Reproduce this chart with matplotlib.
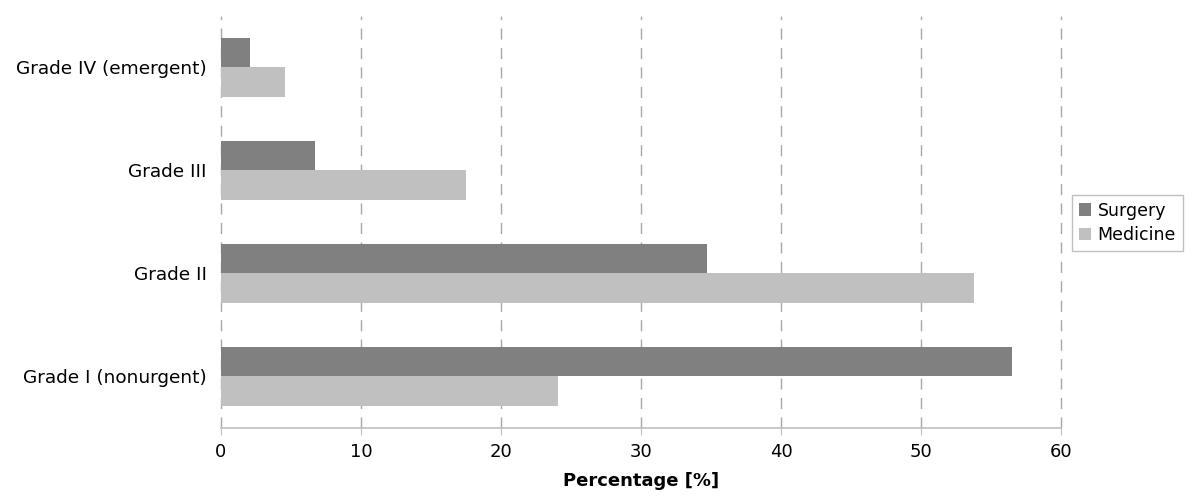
import matplotlib.pyplot as plt
import numpy as np

# Data
categories = ['Grade I (nonurgent)', 'Grade II', 'Grade III', 'Grade IV (emergent)']
surgery = [56.5, 34.7, 6.75, 2.1]
medicine = [24.1, 53.8, 17.5, 4.55]
x_ticks = [0, 10, 20, 30, 40, 50, 60]

plt.rcParams['font.family'] = ['DejaVu Sans']

fig = plt.figure(figsize=(12, 5.04), dpi=100)
ax = fig.add_axes([0.184, 0.151, 0.7004, 0.818])

y = np.arange(len(categories))
h = 0.285
ax.barh(y + h / 2, surgery, height=h, color='#808080', label='Surgery', zorder=3)
ax.barh(y - h / 2, medicine, height=h, color='#c0c0c0', label='Medicine', zorder=3)

ax.set_xlim(0, 60)
ax.set_ylim(-0.5, 3.5)
ax.set_xticks(x_ticks)
ax.set_yticks(y)
ax.set_yticklabels(categories, fontsize=13.3)
ax.tick_params(axis='x', labelsize=13, length=5, color='#c0c0c0', pad=6)
ax.tick_params(axis='y', length=0, pad=10)

# dashed vertical gridlines, including at zero and at 60
ax.grid(axis='x', linestyle=(0, (8, 6)), color='#a8a8a8', linewidth=1, zorder=0)
ax.grid(axis='y', visible=False)
for line in ax.get_xgridlines():
    line.set_clip_on(False)
for side in ['top', 'right', 'left']:
    ax.spines[side].set_visible(False)
ax.spines['bottom'].set_color('#c0c0c0')
ax.spines['bottom'].set_linewidth(1.2)

ax.set_xlabel('Percentage [%]', fontsize=13, fontweight='bold', labelpad=8)

leg = fig.legend(loc='center left', bbox_to_anchor=(0.893, 0.5575), fontsize=12.5,
                 frameon=True, fancybox=False, edgecolor='#b0b0b0',
                 handlelength=0.7, handleheight=0.7, handletextpad=0.4,
                 borderpad=0.4, labelspacing=0.4, borderaxespad=0)
leg.get_frame().set_linewidth(1)

plt.savefig('out.png', dpi=100)
plt.close()
